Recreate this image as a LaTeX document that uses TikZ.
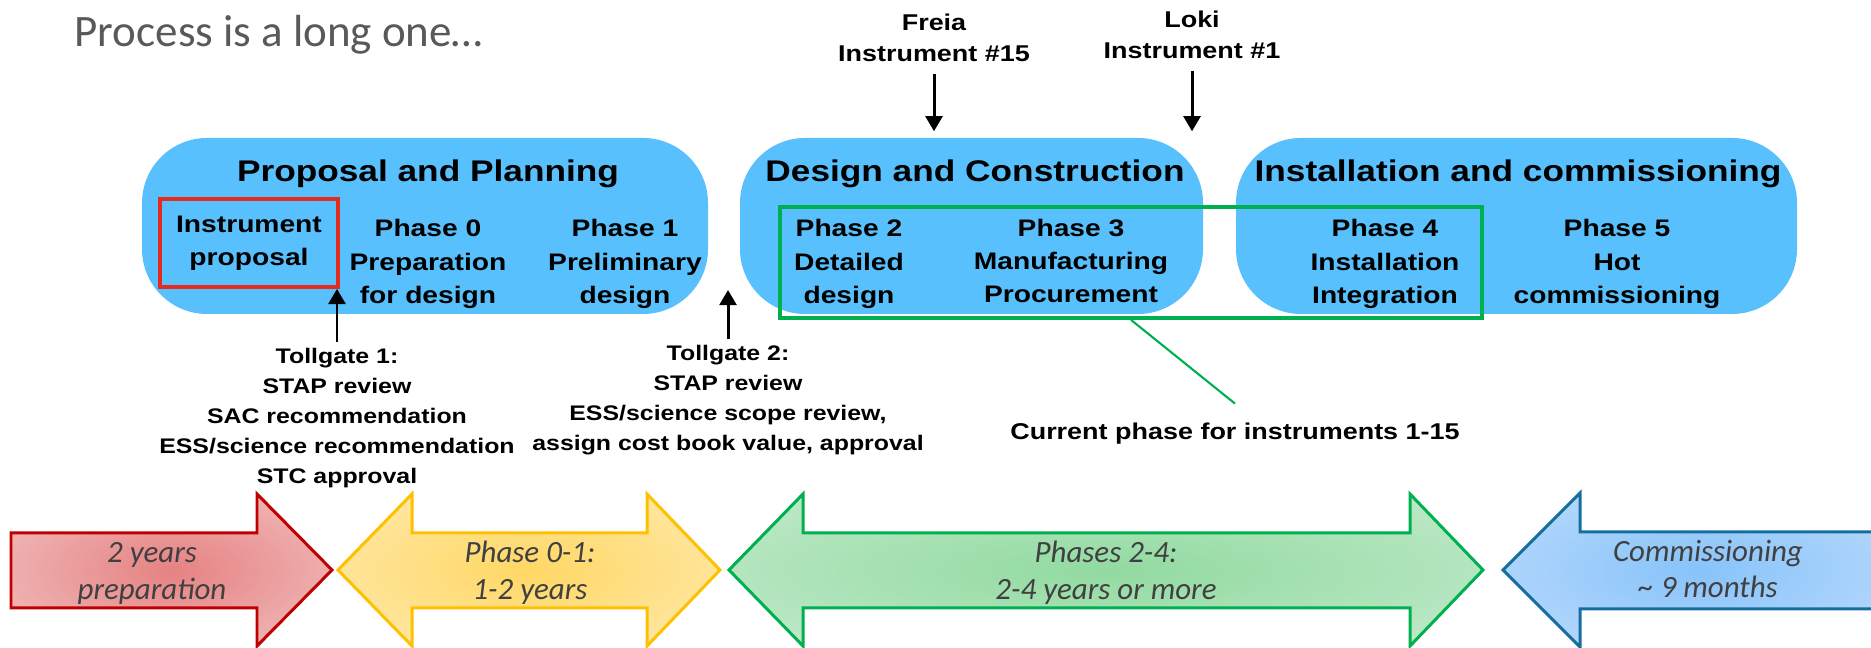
\documentclass[tikz,border=0pt]{standalone}
\usepackage{fontspec}
\setmainfont{Liberation Sans}
\newfontfamily\chartfont{Liberation Sans}[FakeStretch=1.18]
\newfontfamily\slidefont{Carlito}
\usetikzlibrary{arrows.meta}

\definecolor{stageblue}{RGB}{88,192,252}
\definecolor{proposalred}{RGB}{229,43,30}
\definecolor{currentgreen}{RGB}{0,176,80}
\definecolor{slidegray}{RGB}{89,89,89}
\definecolor{periodgray}{RGB}{64,64,64}
% time arrows: border, centre and rim
\definecolor{prepline}{RGB}{192,0,0}
\definecolor{prepmid}{RGB}{230,130,130}
\definecolor{preprim}{RGB}{246,218,218}
\definecolor{earlyline}{RGB}{255,192,0}
\definecolor{earlymid}{RGB}{255,215,100}
\definecolor{earlyrim}{RGB}{255,243,208}
\definecolor{buildline}{RGB}{0,176,80}
\definecolor{buildmid}{RGB}{145,218,160}
\definecolor{buildrim}{RGB}{216,241,222}
\definecolor{commline}{RGB}{22,110,160}
\definecolor{commmid}{RGB}{135,195,250}
\definecolor{commrim}{RGB}{212,230,252}
\pgfdeclareradialshading{prepglow}{\pgfpointorigin}{color(0bp)=(prepmid); color(50bp)=(preprim)}
\pgfdeclareradialshading{earlyglow}{\pgfpointorigin}{color(0bp)=(earlymid); color(50bp)=(earlyrim)}
\pgfdeclareradialshading{buildglow}{\pgfpointorigin}{color(0bp)=(buildmid); color(50bp)=(buildrim)}
\pgfdeclareradialshading{commglow}{\pgfpointorigin}{color(0bp)=(commmid); color(50bp)=(commrim)}

\begin{document}
\begin{tikzpicture}[
    stage/.style={fill=stageblue, rounded corners=0.65cm, inner sep=0pt, minimum height=1.76cm},
    stagetitle/.style={anchor=base, font=\chartfont\bfseries\fontsize{8.5}{10}\selectfont},
    sub/.style={align=center, inner sep=0pt, font=\chartfont\bfseries\fontsize{6.8}{9.5}\selectfont},
    instr/.style={align=center, inner sep=0pt, font=\chartfont\bfseries\fontsize{6.5}{9}\selectfont},
    gate/.style={align=center, inner sep=0pt, font=\chartfont\bfseries\fontsize{6}{8.5}\selectfont},
    period/.style={line width=0.85pt},
    periodtext/.style={align=center, inner sep=0pt, text=periodgray, font=\slidefont\itshape\fontsize{8.8}{10.5}\selectfont},
    pointer/.style={-{Triangle[length=4.3pt,width=4.8pt]}, line width=0.85pt}]

  \useasboundingbox (0,0) rectangle (18.71,6.48);
  \clip (0,0) rectangle (18.71,6.48);

  \node[anchor=base west, inner sep=0pt, text=slidegray, font=\slidefont\fontsize{12.8}{15}\selectfont] (heading) at (0.74,6.01) {Process is a long one…};

  % Stages
  \node[stage, minimum width=5.66cm] (planning) at (4.25,4.22) {};
  \node[stage, minimum width=4.63cm] (design) at (9.715,4.22) {};
  \node[stage, minimum width=5.61cm] (install) at (15.165,4.22) {};
  \node[stagetitle] (planningtitle) at (4.28,4.66) {Proposal and Planning};
  \node[stagetitle] (designtitle) at (9.75,4.66) {Design and Construction};
  \node[stagetitle] (installtitle) at (15.18,4.66) {Installation and commissioning};

  % Phases
  \node[sub, draw=proposalred, line width=1.1pt, minimum width=1.78cm, minimum height=0.88cm] (proposal) at (2.49,4.05) {Instrument\\proposal};
  \node[sub] (p0) at (4.28,3.84) {Phase 0\\Preparation\\for design};
  \node[sub] (p1) at (6.25,3.84) {Phase 1\\Preliminary\\design};
  \node[sub] (p2) at (8.49,3.84) {Phase 2\\Detailed\\design};
  \node[sub] (p3) at (10.71,3.87) {Phase 3\\Manufacturing\\Procurement};
  \node[sub] (p4) at (13.85,3.84) {Phase 4\\Installation\\Integration};
  \node[sub] (p5) at (16.17,3.84) {Phase 5\\Hot\\commissioning};

  \node[draw=currentgreen, line width=1.1pt, minimum width=7.02cm, minimum height=1.11cm, inner sep=0pt] (current) at (11.31,3.855) {};
  \node[instr] (curlabel) at (12.35,2.14) {Current phase for instruments 1-15};
  \draw[currentgreen, line width=0.6pt] (current.south) -- ([yshift=0.19cm]curlabel.north);

  % Instruments
  \node[instr] (freia) at (9.34,6.10) {Freia\\Instrument \#15};
  \node[instr] (loki) at (11.92,6.13) {Loki\\Instrument \#1};
  \draw[pointer, shorten <=0.11cm, shorten >=0.06cm] (freia.south) -- (freia.south |- design.north);
  \draw[pointer, shorten <=0.11cm, shorten >=0.06cm] (loki.south) -- (loki.south |- design.north);

  % Tollgates
  \node[gate] (gate1) at (3.37,2.30) {Tollgate 1:\\STAP review\\SAC recommendation\\ESS/science recommendation\\STC approval};
  \node[gate] (gate2) at (7.28,2.48) {Tollgate 2:\\STAP review\\ESS/science scope review,\\assign cost book value, approval};
  \coordinate (gap) at (7.28,3.58);
  \draw[pointer, shorten <=0.06cm] (gate1.north) -- (gate1.north |- proposal.south);
  \draw[pointer, shorten <=0.06cm] (gate2.north) -- (gap);

  % Durations
  \path[period, draw=prepline, shading=prepglow] (0.11,1.15) -- (2.57,1.15) -- (2.57,1.54) -- (3.32,0.78) -- (2.57,0.02) -- (2.57,0.40) -- (0.11,0.40) -- cycle;
  \path[period, draw=earlyline, shading=earlyglow] (3.38,0.78) -- (4.12,1.54) -- (4.12,1.15) -- (6.47,1.15) -- (6.47,1.54) -- (7.20,0.78) -- (6.47,0.02) -- (6.47,0.40) -- (4.12,0.40) -- (4.12,0.02) -- cycle;
  \path[period, draw=buildline, shading=buildglow] (7.29,0.78) -- (8.03,1.54) -- (8.03,1.15) -- (14.10,1.15) -- (14.10,1.54) -- (14.83,0.78) -- (14.10,0.02) -- (14.10,0.40) -- (8.03,0.40) -- (8.03,0.02) -- cycle;
  \path[period, draw=commline, shading=commglow] (15.03,0.78) -- (15.80,1.55) -- (15.80,1.16) -- (18.90,1.16) -- (18.90,0.39) -- (15.80,0.39) -- (15.80,0.01) -- cycle;
  \node[periodtext] (preptext) at (1.52,0.745) {2 years\\preparation};
  \node[periodtext] (earlytext) at (5.30,0.755) {Phase 0-1:\\1-2 years};
  \node[periodtext] (buildtext) at (11.06,0.755) {Phases 2-4:\\2-4 years or more};
  \node[periodtext] (commtext) at (17.08,0.79) {Commissioning\\\textasciitilde\ 9 months};
\end{tikzpicture}
\end{document}
